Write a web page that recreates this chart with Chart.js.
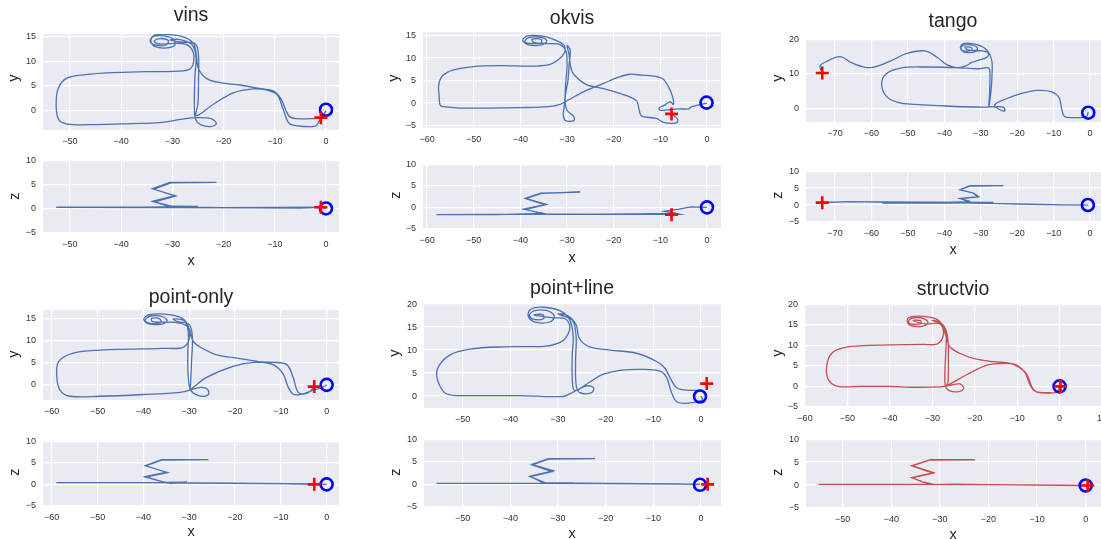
<!DOCTYPE html>
<html>
<head>
<meta charset="utf-8">
<script src="https://cdn.jsdelivr.net/npm/chart.js@4"></script>
<style>
  html, body { margin: 0; padding: 0; background: #fff; overflow: hidden; }
  body { width: 1101px; height: 539px; position: relative; font-family: 'Liberation Sans', Arial, sans-serif; color: #262626; }
  canvas { position: absolute; }
  .lbl { position: absolute; transform: translate(-50%, -50%); white-space: nowrap; line-height: 1; }
  .titulo { font-size: 19.5px; }
  .eje { font-size: 14.5px; }
  .rot { transform: translate(-50%, -50%) rotate(-90deg); }
</style>
</head>
<body>
<script>
// Trayectorias: pares [x, y] y [x, z]
const vinsXY = [[0,0],[-0.8,-1.3],[-3,-1.6],[-5.7,-1.6],[-7,-1.3],[-7.8,0],[-8.8,2.4],[-10.3,4],[-12.9,4.5],[-16.8,5.2],[-20.7,5.7],[-23.3,6.5],[-24.9,8.5],[-25.3,11],[-25.8,13.5],[-27.5,14.8],[-30.5,15.4],[-33.5,15.3],[-34.2,14.2],[-33.5,13],[-31,12.7],[-29.5,13.3],[-29.8,14.5],[-31.5,15.1],[-33.8,15],[-34.3,13.9],[-33,13.2],[-31.2,13.3],[-30.8,14.2],[-32.5,14.6],[-33.6,14],[-32.5,13.5],[-28,13.6],[-26.3,12.6],[-25.8,10.5],[-26.5,8.5],[-29,8],[-35,7.9],[-42,7.7],[-47,7.3],[-50.6,6.6],[-52.3,4.5],[-52.7,1],[-52.2,-1.8],[-50.5,-2.7],[-45,-2.8],[-38,-2.6],[-32.5,-2.4],[-28,-1.7],[-25.5,-1.4],[-22.5,-1.6],[-21.4,-2.6],[-22.5,-3.2],[-24.5,-2.8],[-25.5,-1.6],[-25.7,2],[-25.6,7],[-25.4,11],[-26.2,13.4],[-28.5,14.4],[-30.5,14.3],[-28.5,13.9],[-25.5,13.5],[-24.9,11],[-24.9,6],[-25,1.5],[-25.3,-1],[-22,1.3],[-18.1,3.6],[-14.2,4.4],[-11.6,4.2],[-9.6,3.3],[-8.5,0.7],[-7.4,-2.3],[-6.4,-2.9],[-2.1,-3.1],[-1,-1.4]];
const vinsXZ = [[0,0],[-1,0.3],[-10,0.25],[-20,0.2],[-26,0.3],[-30.1,0.3],[-33.9,1.5],[-29.5,2.7],[-33.9,4.1],[-30.5,5.4],[-21.4,5.4],[-30.3,5.3],[-33.6,4],[-29.3,2.6],[-33.5,1.4],[-30,0.5],[-25,0.45],[-35,0.3],[-52.7,0.3],[-35,0.25],[-15,0.2],[-5,0.1],[-1,0.3]];

const okvisXY = [[0,0],[-2.5,-0.6],[-3.5,-0.9],[-3.8,-1.3],[-6,-1.3],[-8.5,-1.5],[-10,-1.6],[-10.3,-1.1],[-9.2,-0.5],[-7.9,0.3],[-7.2,-0.3],[-7.4,1.5],[-8.3,3.7],[-9.5,5.4],[-11.5,6],[-14,6.2],[-16.5,6.4],[-18.8,5.8],[-21,4.9],[-23.5,3.8],[-26.5,2.5],[-29.5,0.8],[-31.5,-0.3],[-34,-0.8],[-40,-1],[-47,-1.1],[-53,-1.1],[-56.5,-0.8],[-57.2,-0.4],[-57.4,1.5],[-57.5,4],[-56.7,6],[-54.5,7.3],[-50,8.1],[-44,8.3],[-38,8.2],[-34,8.5],[-32,9.5],[-30.5,11.3],[-30.6,12.8],[-32.5,14],[-35.5,14.9],[-38.5,14.9],[-39.5,14],[-38.5,13],[-35.5,12.9],[-34.3,13.8],[-35.5,14.6],[-38.4,14.5],[-39,13.6],[-37.5,13.2],[-35.5,13.4],[-35.6,14.2],[-37.5,14.2],[-37.2,13.5],[-34.5,13.2],[-31.5,13],[-30.2,11.5],[-30,8],[-30.3,4],[-30.5,0],[-30.8,-2.5],[-30.3,-3.9],[-28.5,-3.9],[-28.6,-2.9],[-30,-1.6],[-30.4,1],[-29.8,5],[-29.5,9],[-29.3,11.8],[-30,12.8],[-29.6,11],[-29.2,8],[-28.5,6.3],[-25.8,4.1],[-22.2,3.2],[-17.9,1.9],[-15.1,0.5],[-14.5,-1.7],[-14,-2.9],[-10.8,-3.4],[-9.5,-4.2],[-7.5,-4.5],[-6.3,-4.2],[-6.4,-3.4],[-7.6,-2.4]];
const okvisXZ = [[0,0],[-3.5,0.1],[-6,-0.4],[-9.2,-0.9],[-7,-1.3],[-5.8,-1.6],[-12,-1.6],[-25,-1.6],[-35,-1.5],[-39.3,-0.4],[-34.4,0.7],[-38.9,2.1],[-35.6,3.3],[-27.2,3.5],[-35.5,3.25],[-38.8,2],[-34.6,0.6],[-39,-0.5],[-35,-1.4],[-45,-1.7],[-58,-1.7],[-45,-1.6],[-30,-1.6],[-15,-1.5],[-8,-1.4],[-7.6,-1.7]];

const tangoXY = [[-0.5,-0.9],[-1,-2.2],[-4.5,-2.5],[-7,-2.2],[-7.8,0],[-8.5,3.2],[-10.5,4.9],[-14.5,5.3],[-18.5,4.5],[-23,2.9],[-26.2,1.2],[-25,-0.1],[-23.4,-0.6],[-23.8,0.5],[-26.5,0.6],[-29,0.5],[-35,0.6],[-41,0.9],[-48,1.3],[-52.5,1.8],[-55.8,3.5],[-57.2,7],[-56,10],[-52,11.7],[-45,12],[-37,11.8],[-30.5,11.5],[-27.8,11.7],[-27.5,9],[-27.6,4],[-27.8,0.8],[-27.2,5],[-26.9,10],[-27,14],[-28.3,16.8],[-31,18.4],[-34.5,18.8],[-35.6,17.6],[-34.6,16.3],[-31.5,16.4],[-31,17.6],[-33.5,18.4],[-35.4,17.8],[-35,16.7],[-32.5,16.8],[-32.6,17.6],[-34.3,17.7],[-33.5,16.9],[-29.5,16.6],[-27.8,15.8],[-28.5,14.7],[-30.5,14],[-32.5,13.3],[-34,12.4],[-36.6,11.8],[-39.3,12.7],[-42,14.8],[-45.3,16.6],[-50.3,15.9],[-55,13.6],[-60.4,11.8],[-65.4,13.2],[-68.6,15],[-72.3,13.6],[-74.1,12.3],[-73.6,10.5]];
const tangoXZ = [[-0.5,0],[-7,0.05],[-20,0.3],[-27,0.5],[-33,0.6],[-33,1.1],[-35.7,1.9],[-30.6,2.5],[-32,3.5],[-35.7,4.5],[-33,5.7],[-23.8,5.7],[-33,5.6],[-35.6,4.5],[-32.2,3.6],[-30.8,2.4],[-35.5,1.9],[-33.3,0.9],[-45,0.65],[-57,0.6],[-40,0.6],[-26.5,0.75],[-45,0.85],[-58,0.9],[-66,1],[-73.5,0.75]];

const pointOnlyXY = [[0,0],[-1,-0.6],[-2.9,-1.2],[-5,-2],[-7.2,-2.2],[-8.4,-0.5],[-9.5,2.5],[-11.5,4.5],[-15,5.3],[-20.4,6.2],[-24,6.8],[-27.6,8.6],[-29.2,10],[-30,12.8],[-31.2,14.9],[-34,15.9],[-38.5,16],[-39.9,15],[-39,13.9],[-36,13.8],[-34.8,14.6],[-35.8,15.5],[-38.6,15.6],[-39.6,14.6],[-38.5,14],[-36.2,14.2],[-36.4,15],[-38.2,15.1],[-38,14.4],[-33,14.2],[-30.5,13.4],[-29.9,11],[-31.2,8.6],[-36,8.3],[-43,8.1],[-49.5,7.9],[-55.3,7.2],[-58.5,5.3],[-58.9,2],[-58.2,-1.2],[-56,-2.6],[-49.5,-2.6],[-40,-2.2],[-32,-1.7],[-29.8,-1.2],[-27.5,-0.6],[-26,-1],[-25.8,-2.2],[-27.3,-2.6],[-29.6,-1.3],[-30.2,2],[-30.3,7],[-30.2,12],[-31,14.5],[-33.5,15],[-32.5,14.4],[-30,13.7],[-29.3,11],[-29.5,5],[-29.7,0],[-29.8,-1],[-26.2,1.7],[-20.4,4.2],[-16,5.1],[-11.6,5.1],[-8.7,4.6],[-7.3,1.7],[-6.5,-1.2],[-5.8,-2],[-4,-1.8],[-2.7,-0.4]];
const pointOnlyXZ = [[0,0],[-2.7,0.1],[-15,0.2],[-30,0.3],[-34.9,0.3],[-37,1],[-39.6,1.8],[-34.9,2.8],[-39.6,4.3],[-36,5.7],[-25.8,5.7],[-36,5.6],[-39.5,4.3],[-34.7,2.7],[-39.5,1.7],[-36.5,0.8],[-34,0.2],[-30.5,0.5],[-40,0.4],[-59,0.4],[-40,0.4],[-20,0.3],[-2.7,0]];

const pointLineXY = [[0,0],[0.3,-0.8],[-2.3,-1.5],[-5,-1.3],[-6.2,0.8],[-7.2,4],[-8.6,5.4],[-12.2,5.8],[-17,5.6],[-20.6,4.7],[-23.4,3],[-26.5,1.2],[-27,4],[-27,9],[-26.8,13],[-27.5,16.5],[-29.5,18.5],[-33,19.3],[-35.8,18.8],[-36.2,17.2],[-34.5,16],[-31.5,16.2],[-30.8,17.5],[-32.5,18.6],[-35,18.5],[-36,17.6],[-35.2,16.7],[-33,16.8],[-33.2,17.7],[-35,17.6],[-31,17],[-28.5,16.8],[-27.5,15],[-28.5,12.5],[-30.2,11.4],[-33,10.8],[-41.5,10.7],[-48.5,10.2],[-52.7,8.9],[-55.2,6.1],[-55.2,3.3],[-53.4,0.5],[-48.5,0.1],[-38,0.1],[-29,-0.1],[-26.9,0.8],[-24,2.2],[-22.5,1.8],[-23,0.7],[-25.5,0.8],[-26.2,2.5],[-26.3,8],[-26.2,13],[-27,16.5],[-30,17.8],[-28,17.5],[-26.2,15.5],[-25.5,12.5],[-23.4,10.7],[-19.1,10],[-13.5,9.3],[-9.3,7.5],[-7.6,6.1],[-6.5,4],[-5.1,1.8],[-3,1.3],[-0.3,1.2]];
const pointLineXZ = [[-0.2,0],[-5,0.1],[-20,0.2],[-30,0.3],[-33,0.3],[-35.9,1.8],[-31,3],[-35.5,4.4],[-32,5.7],[-22.2,5.7],[-32,5.6],[-35.4,4.3],[-31.2,2.8],[-35.8,1.7],[-32.5,0.3],[-26.8,0.35],[-40,0.2],[-55.5,0.2],[-40,0.2],[-20,0.15],[-5,0.05],[-0.2,0]];

const structvioXY = [[0,0],[-0.6,-1.4],[-3,-1.5],[-5.3,-1.4],[-6.5,-0.2],[-7.7,2.9],[-9.3,4.5],[-11.6,5.6],[-15.6,6],[-20.3,6.8],[-23.4,8],[-25.8,9.5],[-26.6,11.5],[-27.2,13.8],[-28.5,16],[-31,16.9],[-34.5,17],[-35.9,16.2],[-35.3,14.9],[-32.5,14.6],[-31,15.4],[-32,16.5],[-34.8,16.6],[-35.6,15.7],[-34.5,15.1],[-32.6,15.3],[-32.8,16],[-34.5,16],[-31.5,15.2],[-28.5,15.3],[-27.5,14.2],[-27.5,12],[-28.9,10.3],[-32,10.2],[-39.9,10.1],[-46,9.9],[-50.5,9.5],[-53.3,8.4],[-54.7,6],[-54.7,2.1],[-52.5,0.1],[-47,0],[-40,0],[-34.4,-0.2],[-28.1,-0.1],[-26.3,0.2],[-23.5,0.6],[-22.6,-0.5],[-24,-1.3],[-26,-1],[-26.9,0],[-27,4],[-26.8,9],[-26.8,13],[-28,15.5],[-30,16],[-27.5,15],[-26.4,12],[-26.2,6],[-26.3,1],[-26.6,0.2],[-21.8,2.9],[-17.1,5.2],[-12.4,5.6],[-10.1,5.2],[-8.1,3.3],[-6.9,0.2],[-5.7,-1.2],[-3,-1.6],[-0.5,-1.3],[0.1,0]];
const structvioXZ = [[0,-0.1],[-5,0],[-20,0.1],[-26.9,0.2],[-31.7,0.1],[-33.7,0.75],[-35.8,1.6],[-31.3,2.7],[-35.8,4.2],[-32,5.5],[-22.8,5.5],[-32,5.45],[-35.7,4.15],[-31.4,2.6],[-35.7,1.55],[-33.5,0.7],[-31.5,0.2],[-40,0.15],[-55,0.15],[-40,0.15],[-20,0.1],[-5,-0.05],[0,-0.1]];

// Marcadores: inicio (círculo azul) y fin (cruz roja)
const vinsInicioXY = [0, 0.2], vinsFinXY = [-1, -1.4];
const vinsInicioXZ = [0, 0.05], vinsFinXZ = [-1, 0.3];
const okvisInicioXY = [-0.1, 0.1], okvisFinXY = [-7.6, -2.4];
const okvisInicioXZ = [0, 0], okvisFinXZ = [-7.6, -1.7];
const tangoInicioXY = [-0.5, -1.1], tangoFinXY = [-73.5, 10.3];
const tangoInicioXZ = [-0.6, 0], tangoFinXZ = [-73.5, 0.7];
const pointOnlyInicioXY = [0, 0], pointOnlyFinXY = [-2.7, -0.4];
const pointOnlyInicioXZ = [0, 0], pointOnlyFinXZ = [-2.7, 0];
const pointLineInicioXY = [-0.2, -0.1], pointLineFinXY = [1.2, 2.7];
const pointLineInicioXZ = [-0.2, -0.1], pointLineFinXZ = [1.4, 0];
const structvioInicioXY = [0, 0], structvioFinXY = [0.2, 0];
const structvioInicioXZ = [0, -0.1], structvioFinXZ = [0.4, -0.1];

// Ticks (se filtran al rango de cada eje)
const ticksX = [-70, -60, -50, -40, -30, -20, -10, 0, 10];
const ticksY5 = [-5, 0, 5, 10, 15, 20];
const ticksY10 = [0, 10, 20];

const AZUL = '#4c72b0';
const ROJO = '#c44e52';
const FONDO = '#eaeaf2';

// Caja = área de dibujo en píxeles [izq, arriba, der, abajo]
const subgraficos = [
    { ruta: vinsXY, ini: vinsInicioXY, fin: vinsFinXY, color: AZUL, caja: [43, 31, 339, 130], xlim: [-55.27, 2.54], ylim: [-3.9, 15.5], yticks: ticksY5, tension: 0.35 },
    { ruta: vinsXZ, ini: vinsInicioXZ, fin: vinsFinXZ, color: AZUL, caja: [43, 157, 339, 233], xlim: [-55.27, 2.54], ylim: [-5, 10], yticks: ticksY5, tension: 0 },
    { ruta: okvisXY, ini: okvisInicioXY, fin: okvisFinXY, color: AZUL, caja: [423, 29, 721, 128], xlim: [-60.86, 3.0], ylim: [-5.53, 15.76], yticks: ticksY5, tension: 0.3 },
    { ruta: okvisXZ, ini: okvisInicioXZ, fin: okvisFinXZ, color: AZUL, caja: [423, 161, 721, 229], xlim: [-60.86, 3.0], ylim: [-5, 10], yticks: ticksY5, tension: 0 },
    { ruta: tangoXY, ini: tangoInicioXY, fin: tangoFinXY, color: AZUL, caja: [806, 36, 1101, 122], xlim: [-77.96, 3.0], ylim: [-3.77, 20], yticks: ticksY10, tension: 0.35 },
    { ruta: tangoXZ, ini: tangoInicioXZ, fin: tangoFinXZ, color: AZUL, caja: [806, 168, 1101, 222], xlim: [-77.96, 3.0], ylim: [-5, 10], yticks: ticksY5, tension: 0 },
    { ruta: pointOnlyXY, ini: pointOnlyInicioXY, fin: pointOnlyFinXY, color: AZUL, caja: [43, 307, 339, 400], xlim: [-61.9, 2.7], ylim: [-3.45, 17.0], yticks: ticksY5, tension: 0.35 },
    { ruta: pointOnlyXZ, ini: pointOnlyInicioXZ, fin: pointOnlyFinXZ, color: AZUL, caja: [43, 438, 339, 506], xlim: [-61.9, 2.7], ylim: [-5, 10], yticks: ticksY5, tension: 0 },
    { ruta: pointLineXY, ini: pointLineInicioXY, fin: pointLineFinXY, color: AZUL, caja: [424, 300, 721, 408], xlim: [-58.1, 4.2], ylim: [-2.6, 20.2], yticks: ticksY5, tension: 0.35 },
    { ruta: pointLineXZ, ini: pointLineInicioXZ, fin: pointLineFinXZ, color: AZUL, caja: [424, 436, 721, 507], xlim: [-58.1, 4.2], ylim: [-5, 10], yticks: ticksY5, tension: 0 },
    { ruta: structvioXY, ini: structvioInicioXY, fin: structvioFinXY, color: ROJO, caja: [805, 301, 1102, 407], xlim: [-60, 10], ylim: [-5, 20], yticks: ticksY5, tension: 0.35 },
    { ruta: structvioXZ, ini: structvioInicioXZ, fin: structvioFinXZ, color: ROJO, caja: [806, 436, 1101, 508], xlim: [-57.55, 3.15], ylim: [-5, 10], yticks: ticksY5, tension: 0 }
];

// Títulos y etiquetas de ejes: [texto, x, y, clase]
const textos = [
    ['vins', 191, 15, 'titulo'], ['y', 13, 78, 'eje rot'], ['z', 14, 196, 'eje rot'], ['x', 191, 260, 'eje'],
    ['okvis', 572, 18, 'titulo'], ['y', 393, 78, 'eje rot'], ['z', 395, 195, 'eje rot'], ['x', 572, 257, 'eje'],
    ['tango', 953, 21, 'titulo'], ['y', 777, 78, 'eje rot'], ['z', 777, 195, 'eje rot'], ['x', 953, 249, 'eje'],
    ['point-only', 191, 297, 'titulo'], ['y', 13, 354, 'eje rot'], ['z', 14, 472, 'eje rot'], ['x', 191, 531, 'eje'],
    ['point+line', 572, 288, 'titulo'], ['y', 394, 353, 'eje rot'], ['z', 395, 472, 'eje rot'], ['x', 572, 533, 'eje'],
    ['structvio', 953, 289, 'titulo'], ['y', 777, 353, 'eje rot'], ['z', 777, 472, 'eje rot'], ['x', 953, 534, 'eje']
];

const PAD_L = 40, PAD_T = 6, PAD_R = 18, PAD_B = 22;
const fuenteTicks = { family: "'Liberation Sans', Arial, sans-serif", size: 9 };

function menos(v) {
    return String(v).replace('-', '\u2212');
}

function aPuntos(arr) {
    return arr.map(p => ({ x: p[0], y: p[1] }));
}

const fondoArea = {
    id: 'fondoArea',
    beforeDraw(chart) {
        const a = chart.chartArea;
        const ctx = chart.ctx;
        ctx.save();
        ctx.fillStyle = FONDO;
        ctx.fillRect(a.left, a.top, a.right - a.left, a.bottom - a.top);
        ctx.restore();
    }
};

function crearSubgrafico(g) {
    const [l, t, r, b] = g.caja;
    const canvas = document.createElement('canvas');
    canvas.width = (r - l) + PAD_L + PAD_R;
    canvas.height = (b - t) + PAD_T + PAD_B;
    canvas.style.left = (l - PAD_L) + 'px';
    canvas.style.top = (t - PAD_T) + 'px';
    document.body.appendChild(canvas);

    const enRango = (lista, lim) => lista.filter(v => v >= lim[0] - 1e-9 && v <= lim[1] + 1e-9).map(v => ({ value: v }));

    new Chart(canvas.getContext('2d'), {
        type: 'scatter',
        data: {
            datasets: [
                {
                    data: aPuntos([g.fin]),
                    pointStyle: 'cross', pointRadius: 6.5,
                    pointBorderColor: '#ff0000', pointBorderWidth: 2.6,
                    clip: false
                },
                {
                    data: aPuntos([g.ini]),
                    pointStyle: 'circle', pointRadius: 6,
                    pointBorderColor: '#0000ff', pointBackgroundColor: 'rgba(0,0,0,0)', pointBorderWidth: 2.6,
                    clip: false
                },
                {
                    data: aPuntos(g.ruta),
                    showLine: true, pointRadius: 0,
                    borderColor: g.color, borderWidth: 1.3,
                    tension: g.tension, fill: false
                }
            ]
        },
        options: {
            responsive: false,
            animation: false,
            events: [],
            layout: { padding: { left: 0, top: PAD_T, right: PAD_R, bottom: 0 } },
            plugins: { legend: { display: false }, tooltip: { enabled: false } },
            scales: {
                x: {
                    type: 'linear', min: g.xlim[0], max: g.xlim[1],
                    grid: { color: '#ffffff', lineWidth: 1.2, drawTicks: false },
                    border: { display: false },
                    ticks: { font: fuenteTicks, color: '#333333', padding: 6, autoSkip: false, maxRotation: 0, callback: v => menos(v) },
                    afterBuildTicks: s => { s.ticks = enRango(ticksX, g.xlim); },
                    afterFit: s => { s.height = PAD_B; s.paddingLeft = 0; s.paddingRight = 0; }
                },
                y: {
                    type: 'linear', min: g.ylim[0], max: g.ylim[1],
                    grid: { color: '#ffffff', lineWidth: 1.2, drawTicks: false },
                    border: { display: false },
                    ticks: { font: fuenteTicks, color: '#333333', padding: 7, autoSkip: false, callback: v => menos(v) },
                    afterBuildTicks: s => { s.ticks = enRango(g.yticks, g.ylim); },
                    afterFit: s => { s.width = PAD_L; s.paddingTop = 0; s.paddingBottom = 0; }
                }
            }
        },
        plugins: [fondoArea]
    });
}

function crearTexto([texto, x, y, clase]) {
    const div = document.createElement('div');
    div.className = 'lbl ' + clase;
    div.textContent = texto;
    div.style.left = x + 'px';
    div.style.top = y + 'px';
    document.body.appendChild(div);
}

subgraficos.forEach(crearSubgrafico);
textos.forEach(crearTexto);
</script>
</body>
</html>
